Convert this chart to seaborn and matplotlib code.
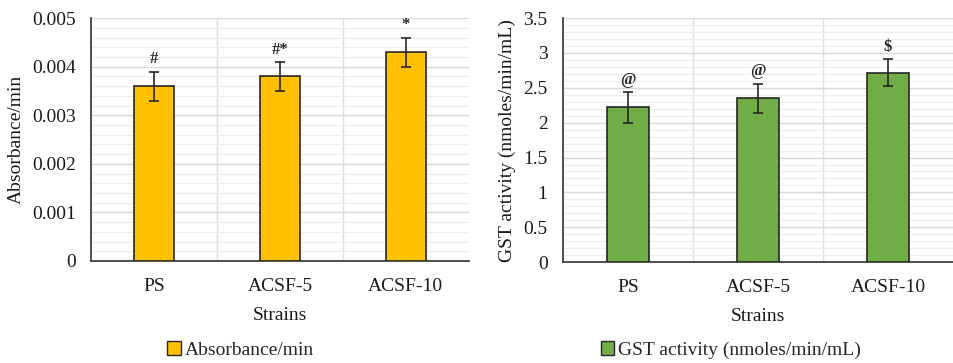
import matplotlib
matplotlib.use("Agg")
import matplotlib.pyplot as plt
import seaborn as sns
import numpy as np
import pandas as pd
from matplotlib.patches import Patch
from matplotlib.ticker import MultipleLocator

strains = ["PS", "ACSF-5", "ACSF-10"]
absorbance = [0.0036, 0.0038, 0.0043]
absorbance_err = [0.0003, 0.0003, 0.0003]
absorbance_marks = ["#", "#*", "*"]
gst = [2.22, 2.35, 2.72]
gst_err = [0.22, 0.21, 0.19]
gst_marks = ["@", "@", "$"]

sns.set_theme(style="white")
plt.rcParams['font.family'] = ['Liberation Serif', 'DejaVu Serif']
plt.rcParams['font.size'] = 14

fig = plt.figure(figsize=(9.54, 3.63), dpi=100)
ax1 = fig.add_axes([0.0954, 0.281, 0.396, 0.669])
ax2 = fig.add_axes([0.590, 0.278, 0.409, 0.672])

def draw(ax, vals, errs, marks, color, ylim, major, minor, ylabel, fmt, legend_label, legend_x):
    df = pd.DataFrame({"Strains": strains, "val": vals})
    sns.barplot(data=df, x="Strains", y="val", color=color, width=0.32,
                edgecolor="#262626", linewidth=1.2, saturation=1, ax=ax, zorder=3)
    xs = [p.get_x() + p.get_width() / 2 for p in ax.patches]
    ax.errorbar(xs, vals, yerr=errs, fmt="none", ecolor="#262626",
                elinewidth=1.2, capsize=3.5, capthick=1.2, zorder=4)
    for x, v, e, m in zip(xs, vals, errs, marks):
        ax.annotate(m, (x, v + e), xytext=(0, 3), textcoords="offset points",
                    ha="center", va="bottom", fontsize=12, fontweight="bold", color="#262626")
    ax.set_ylim(*ylim)
    ax.set_xlim(-0.5, 2.5)
    ax.yaxis.set_major_locator(MultipleLocator(major))
    ax.yaxis.set_minor_locator(MultipleLocator(minor))
    ax.yaxis.set_major_formatter(plt.FuncFormatter(fmt))
    ax.set_xticks([0, 1, 2])
    ax.set_xticks([0.5, 1.5], minor=True)
    ax.grid(which="major", axis="y", color="#d9d9d9", linewidth=1.0, zorder=0)
    ax.grid(which="minor", axis="y", color="#eeeeee", linewidth=0.8, zorder=0)
    ax.grid(which="minor", axis="x", color="#e0e0e0", linewidth=1.0, zorder=0)
    ax.set_axisbelow(True)
    for s in ["top", "right"]:
        ax.spines[s].set_visible(False)
    for s in ["left", "bottom"]:
        ax.spines[s].set_color("#404040")
        ax.spines[s].set_linewidth(1.3)
    ax.tick_params(axis="both", which="both", length=0, labelsize=14, colors="#1a1a1a")
    ax.tick_params(axis="x", pad=12)
    ax.tick_params(axis="y", pad=11)
    ax.set_xlabel("Strains", fontsize=14, labelpad=9, color="#1a1a1a")
    ax.set_ylabel(ylabel, fontsize=14, labelpad=5, color="#1a1a1a")
    handle = Patch(facecolor=color, edgecolor="#262626", linewidth=1.0)
    fig.legend([handle], [legend_label], loc="center", bbox_to_anchor=(legend_x, 0.036),
               frameon=False, fontsize=14, handlelength=0.7, handleheight=0.7,
               handletextpad=0.2, borderaxespad=0)

def fmt_abs(v, pos):
    if abs(v) < 1e-12:
        return "0"
    return f"{v:.3f}"

def fmt_gst(v, pos):
    return f"{v:g}"

draw(ax1, absorbance, absorbance_err, absorbance_marks, "#FFC000", (0, 0.005), 0.001, 0.0002,
     "Absorbance/min", fmt_abs, "Absorbance/min", 0.252)
draw(ax2, gst, gst_err, gst_marks, "#70AD47", (0, 3.5), 0.5, 0.1,
     "GST activity (nmoles/min/mL)", fmt_gst, "GST activity (nmoles/min/mL)", 0.766)

fig.savefig("out.png", dpi=100)
